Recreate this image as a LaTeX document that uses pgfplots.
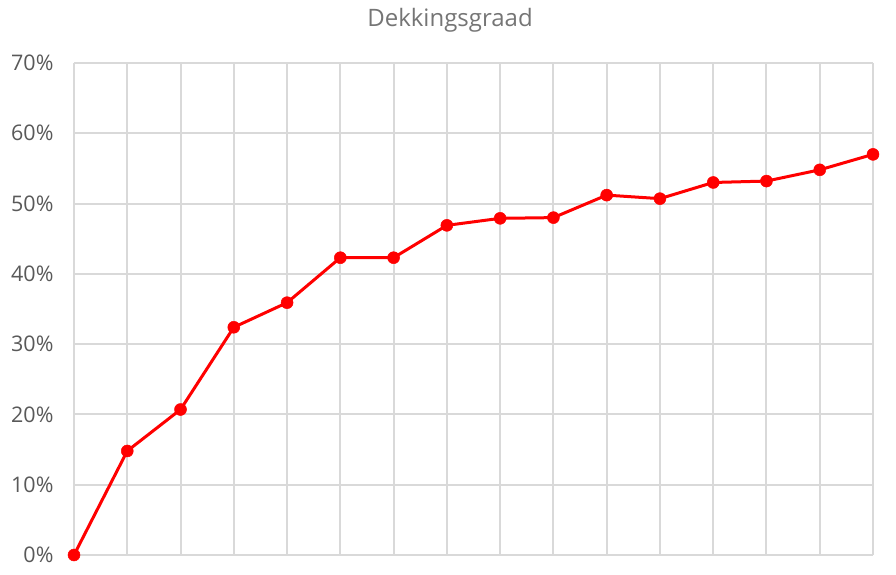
\documentclass[border=0pt]{standalone}
\usepackage{pgfplots}
\pgfplotsset{compat=1.18}
\usepackage{fontspec}
\setmainfont{Open Sans}
\definecolor{gridc}{HTML}{D9D9D9}
\definecolor{labc}{HTML}{595959}
\definecolor{titc}{HTML}{757575}
\begin{document}
\begin{tikzpicture}[x=1pt,y=1pt]
\path[use as bounding box] (0,0) rectangle (896,575);
\begin{axis}[
  at={(74pt,20pt)}, anchor=south west,
  scale only axis, width=799pt, height=492pt,
  xmin=0, xmax=15, ymin=0, ymax=70,
  xtick={0,...,15}, xticklabels={},
  ytick={0,10,...,70},
  yticklabel={\pgfmathprintnumber{\tick}\%},
  /pgf/number format/assume math mode=true,
  yticklabel style={font=\fontsize{21.5}{24}\selectfont, text=labc, xshift=-17pt},
  major tick length=0pt,
  grid=major, major grid style={draw=gridc, line width=2pt},
  axis line style={draw=none},
  clip=false,
]
\draw[gridc, line width=2pt] (axis cs:0,0) -- (axis cs:15,0);
\draw[gridc, line width=2pt] (axis cs:0,70) -- (axis cs:15,70);
\draw[gridc, line width=2pt] (axis cs:0,0) -- (axis cs:0,70);
\draw[gridc, line width=2pt] (axis cs:15,0) -- (axis cs:15,70);
\addplot[color=red, line width=3pt, mark=*, mark size=6pt, mark options={fill=red, draw=red, line width=0.5pt}] coordinates {
(0,0) (1,14.8) (2,20.7) (3,32.4) (4,35.9) (5,42.3) (6,42.3) (7,46.9)
(8,47.9) (9,48.0) (10,51.2) (11,50.7) (12,53.0) (13,53.2) (14,54.8) (15,57.0)
};
\end{axis}
\node[text=titc, font=\fontsize{24}{28}\selectfont] at (450,555) {Dekkingsgraad};
\end{tikzpicture}
\end{document}
